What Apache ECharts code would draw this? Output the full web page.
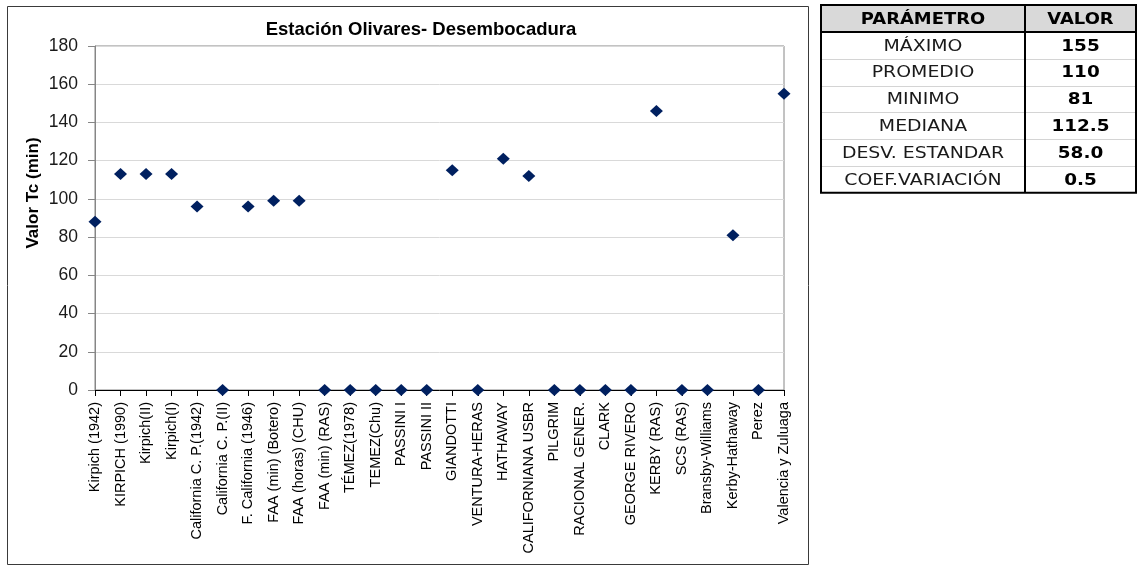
<!DOCTYPE html>
<html>
<head>
<meta charset="utf-8">
<script src="https://cdn.jsdelivr.net/npm/echarts@6/dist/echarts.min.js"></script>
<style>
html, body { margin: 0; padding: 0; background: #fff; }
#chart { width: 1137px; height: 567px; }
</style>
</head>
<body>
<div id="chart"></div>
<script>
var metodos = ['Kirpich (1942)', 'KIRPICH (1990)', 'Kirpich(II)', 'Kirpich(I)', 'California C. P.(1942)',
	'California C. P.(II)', 'F. California (1946)', 'FAA (min) (Botero)', 'FAA (horas) (CHU)', 'FAA (min) (RAS)',
	'TÉMEZ(1978)', 'TEMEZ(Chu)', 'PASSINI I', 'PASSINI II', 'GIANDOTTI', 'VENTURA-HERAS', 'HATHAWAY',
	'CALIFORNIANA USBR', 'PILGRIM', 'RACIONAL GENER.', 'CLARK', 'GEORGE RIVERO', 'KERBY (RAS)', 'SCS (RAS)',
	'Bransby-Williams', 'Kerby-Hathaway', 'Perez', 'Valencia y Zuluaga'];
var valoresTc = [88, 113, 113, 113, 96, 0, 96, 99, 99, 0, 0, 0, 0, 0, 115, 0, 121, 112, 0, 0, 0, 0, 146, 0, 0, 81, 0, 155];
var yTicks = [0, 180, 20];

var tablaCabecera = ['PARÁMETRO', 'VALOR'];
var tablaParametros = ['MÁXIMO', 'PROMEDIO', 'MINIMO', 'MEDIANA', 'DESV. ESTANDAR', 'COEF.VARIACIÓN'];
var tablaValores = ['155', '110', '81', '112.5', '58.0', '0.5'];

var myChart = echarts.init(document.getElementById('chart'));

/* tabla de estadisticos */
function tabla() {
	var x0 = 821, x1 = 1136, xm = 1025, y0 = 5, hCab = 27, hFila = 26.8;
	var els = [];
	var yFin = y0 + hCab + hFila * tablaParametros.length;
	els.push({ type: 'rect', shape: { x: x0, y: y0, width: x1 - x0, height: hCab }, style: { fill: '#d9d9d9' } });
	for (var i = 1; i < tablaParametros.length; i++) {
		var yl = Math.round(y0 + hCab + hFila * i) + 0.5;
		els.push({ type: 'line', shape: { x1: x0, y1: yl, x2: x1, y2: yl }, style: { stroke: '#d4d4d4', lineWidth: 1 } });
	}
	els.push({ type: 'line', shape: { x1: x0, y1: y0 + hCab, x2: x1, y2: y0 + hCab }, style: { stroke: '#000', lineWidth: 2 } });
	els.push({ type: 'line', shape: { x1: xm, y1: y0, x2: xm, y2: yFin }, style: { stroke: '#000', lineWidth: 2 } });
	els.push({ type: 'rect', shape: { x: x0, y: y0, width: x1 - x0, height: yFin - y0 }, style: { fill: null, stroke: '#000', lineWidth: 2 } });
	var cx1 = (x0 + xm) / 2, cx2 = (xm + x1) / 2;
	els.push({ type: 'text', x: cx1, y: y0 + hCab / 2 + 1, scaleX: 1.12, style: { text: tablaCabecera[0], align: 'center', verticalAlign: 'middle', font: 'bold 16px "DejaVu Sans"', fill: '#000' } });
	els.push({ type: 'text', x: cx2, y: y0 + hCab / 2 + 1, scaleX: 1.12, style: { text: tablaCabecera[1], align: 'center', verticalAlign: 'middle', font: 'bold 16px "DejaVu Sans"', fill: '#000' } });
	for (var j = 0; j < tablaParametros.length; j++) {
		var yc = y0 + hCab + hFila * j + hFila / 2 + 1;
		els.push({ type: 'text', x: cx1, y: yc, scaleX: 1.18, style: { text: tablaParametros[j], align: 'center', verticalAlign: 'middle', font: '16px "DejaVu Sans"', fill: '#1a1a1a' } });
		els.push({ type: 'text', x: cx2, y: yc, scaleX: 1.15, style: { text: tablaValores[j], align: 'center', verticalAlign: 'middle', font: 'bold 16px "DejaVu Sans"', fill: '#000' } });
	}
	return els;
}

var option = {
	animation: false,
	title: {
		text: 'Estación Olivares- Desembocadura',
		left: 416,
		textAlign: 'center',
		top: 15,
		textStyle: { fontFamily: 'Liberation Sans', fontSize: 18.5, fontWeight: 'bold', color: '#000' }
	},
	grid: {
		left: 95,
		right: 353,
		top: 46,
		bottom: 177,
		show: true,
		borderColor: '#868686',
		borderWidth: 1
	},
	xAxis: {
		type: 'category',
		data: metodos,
		boundaryGap: false,
		axisLine: { lineStyle: { color: '#000', width: 1 } },
		axisTick: { show: true, length: 6, interval: 0, lineStyle: { color: '#000' } },
		axisLabel: {
			interval: 0,
			rotate: 90,
			margin: 12,
			fontFamily: 'Liberation Sans',
			fontSize: 14.5,
			color: '#000'
		},
		splitLine: { show: false }
	},
	yAxis: {
		type: 'value',
		min: yTicks[0],
		max: yTicks[1],
		interval: yTicks[2],
		axisLine: { show: true, lineStyle: { color: '#868686' } },
		axisTick: { show: true, length: 7, lineStyle: { color: '#868686' } },
		axisLabel: { fontFamily: 'Liberation Sans', fontSize: 17.5, color: '#1a1a1a', margin: 17 },
		splitLine: { lineStyle: { color: '#d9d9d9', width: 1 } }
	},
	series: [{
		type: 'scatter',
		data: valoresTc,
		symbol: 'diamond',
		symbolSize: [13, 12],
		itemStyle: { color: '#002060', opacity: 1 },
		z: 5
	}],
	graphic: [{
		type: 'rect',
		shape: { x: 7.5, y: 6.5, width: 801, height: 558 },
		style: { fill: null, stroke: '#3a3a3a', lineWidth: 1 }
	}, {
		// titulo del eje Y, centrado como en el original
		type: 'text',
		x: 33,
		y: 193,
		rotation: Math.PI / 2,
		style: { text: 'Valor Tc (min)', align: 'center', verticalAlign: 'middle', font: 'bold 17px "Liberation Sans"', fill: '#000' }
	}].concat(tabla())
};
myChart.setOption(option);
</script>
</body>
</html>
